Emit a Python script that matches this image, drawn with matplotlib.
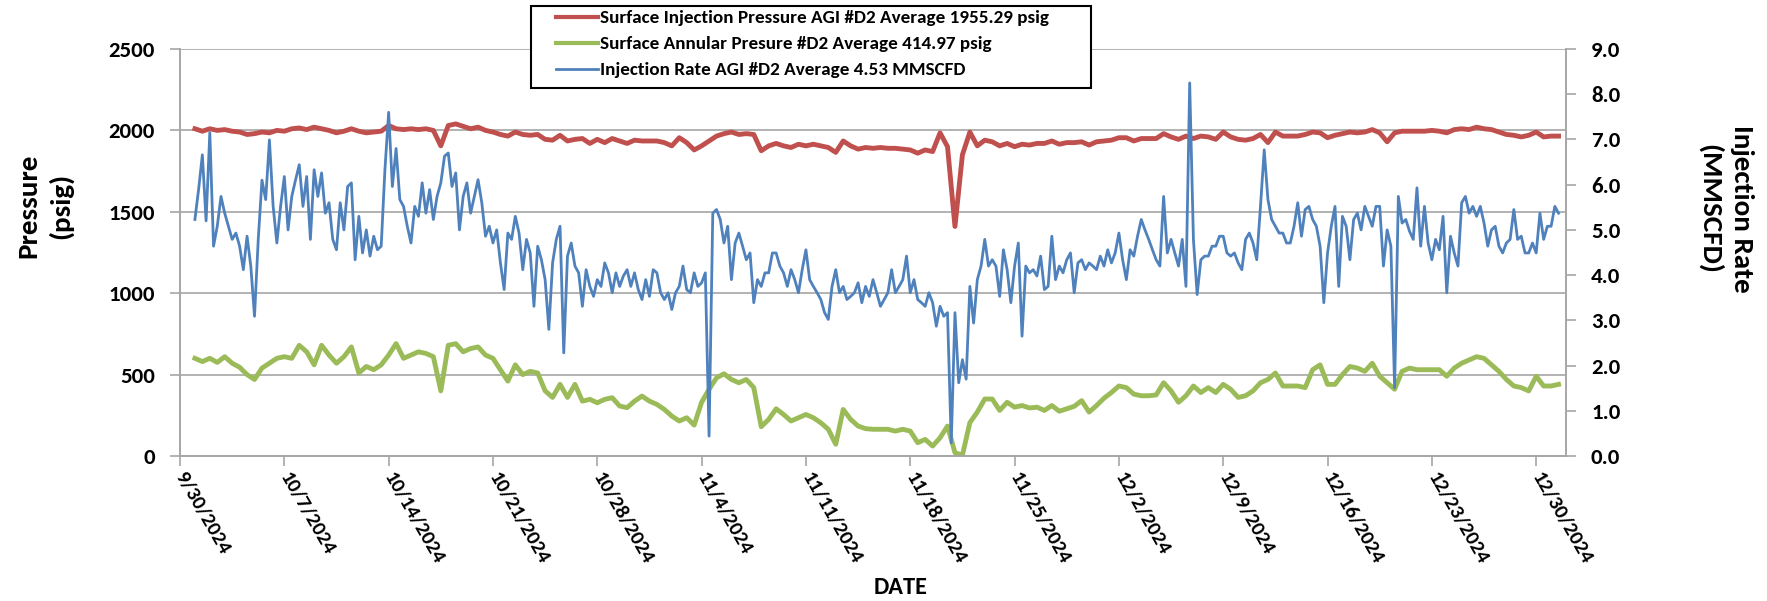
import matplotlib
matplotlib.use('Agg')
import matplotlib.pyplot as plt
import pandas as pd
from matplotlib.patches import Rectangle
from matplotlib.lines import Line2D

# ---------------- data ----------------
start_date = '2024-10-01 00:00'

# Surface Injection Pressure (psig), 12-hour samples
red = [2010, 1995, 2010, 2000, 2005, 1995, 1990, 1975, 1980, 1990, 1985, 2000, 1995, 2010, 2015, 2005,
       2020, 2010, 2000, 1985, 1995, 2010, 1995, 1985, 1990,
       1995, 2030, 2010, 2005, 2010, 2005, 2010, 2000, 1905, 2030, 2040, 2025, 2010, 2020, 2000, 1990,
       1975, 1965, 1990, 1975, 1970, 1975, 1945, 1940, 1970, 1935,
       1945, 1950, 1920, 1945, 1925, 1950, 1935, 1920, 1940, 1935, 1935, 1935, 1925, 1905, 1955, 1925,
       1880, 1905, 1935, 1965, 1980, 1990, 1975, 1980, 1975, 1875, 1905,
       1920, 1905, 1895, 1915, 1905, 1915, 1905, 1895, 1865, 1935, 1905, 1885, 1895, 1890, 1895, 1890,
       1890, 1885, 1880, 1860, 1880, 1870, 1985, 1900, 1410, 1850, 1990,
       1905, 1940, 1930, 1905, 1920, 1900, 1915, 1910, 1920, 1920, 1935, 1915, 1925, 1925, 1930, 1910,
       1930, 1935, 1940, 1955, 1955, 1935, 1950, 1950, 1950, 1980,
       1960, 1945, 1965, 1950, 1965, 1960, 1945, 1990, 1960, 1945, 1940, 1950, 1975, 1925, 1990, 1965,
       1965, 1965, 1975, 1990, 1985, 1955, 1970, 1980, 1990, 1985, 1990,
       2005, 1985, 1930, 1985, 1995, 1995, 1995, 1995, 2000, 1995, 1985, 2005, 2010, 2005, 2020, 2010,
       2005, 1990, 1975, 1970, 1960, 1970, 1990, 1960, 1965, 1965]

# Surface Annular Pressure (psig), 12-hour samples
green = [600, 580, 600, 575, 610, 570, 545, 500, 470, 540, 570, 600, 610, 600, 680, 640, 560, 680, 620,
         570, 610, 670, 510, 550, 530,
         560, 620, 690, 600, 620, 640, 630, 610, 400, 680, 690, 640, 660, 670, 620, 600, 530, 460, 560,
         500, 520, 510, 400, 360, 440, 360,
         440, 337, 348, 327, 348, 358, 307, 297, 337, 368, 337, 317, 286, 245, 215, 235, 190, 330, 410,
         480, 505, 470, 450, 470, 420, 180, 225,
         290, 255, 215, 235, 255, 235, 204, 164, 72, 286, 225, 184, 168, 164, 164, 164, 153, 164, 153,
         82, 102, 61, 112, 184, 20, 5, 205,
         270, 350, 350, 280, 330, 300, 310, 295, 300, 280, 310, 275, 290, 305, 340, 270, 310, 355, 390,
         430, 420, 380, 370, 370, 375, 450,
         400, 330, 370, 430, 390, 420, 390, 440, 410, 360, 370, 400, 450, 470, 510, 430, 430, 430, 420,
         530, 560, 440, 440, 500, 550, 540, 520,
         570, 490, 450, 410, 520, 540, 530, 530, 530, 530, 490, 540, 570, 590, 610, 600, 560, 520, 470,
         430, 420, 400, 490, 430, 430, 440]

# Injection Rate (MMSCFD), 6-hour samples
blue = [5.23, 5.9, 6.66, 5.2, 7.15, 4.64, 5.08, 5.74, 5.37, 5.08, 4.79, 4.93,
        4.64, 4.12, 4.86, 4.2, 3.09, 4.79, 6.1, 5.67, 6.99, 5.52, 4.71, 5.52,
        6.18, 5.0, 5.74, 6.1, 6.44, 5.52, 6.18, 4.79, 6.33, 5.74, 6.26, 5.37,
        5.6, 4.79, 4.56, 5.6, 5.0, 5.96, 6.04, 4.34, 5.3, 4.49, 5.0, 4.42,
        4.86, 4.56, 4.64, 6.33, 7.6, 5.96, 6.8, 5.67, 5.52, 5.08, 4.71, 5.52,
        5.3, 6.04, 5.37, 5.89, 5.23, 5.74, 6.04, 6.63, 6.7, 5.96, 6.26, 5.0,
        5.74, 6.04, 5.37, 5.74, 6.11, 5.6, 4.86, 5.08, 4.71, 5.0, 4.27, 3.68,
        4.93, 4.79, 5.3, 4.93, 4.12, 4.79, 4.49, 3.31, 4.64, 4.34, 3.9, 2.8,
        4.27, 4.79, 5.08, 2.28, 4.42, 4.71, 4.2, 4.05, 3.31, 4.12, 3.75, 3.53,
        3.9, 3.75, 4.27, 4.05, 3.61, 4.05, 3.75, 3.98, 4.12, 3.75, 4.05, 3.68,
        3.46, 3.9, 3.53, 4.12, 4.05, 3.61, 3.46, 3.61, 3.24, 3.61, 3.75, 4.2,
        3.68, 3.61, 4.05, 3.75, 3.83, 4.05, 0.44, 5.37, 5.45, 5.23, 4.71, 5.08,
        3.9, 4.71, 4.93, 4.64, 4.34, 4.49, 3.39, 3.9, 3.75, 4.05, 4.05, 4.49,
        4.49, 4.2, 4.05, 3.75, 4.12, 3.9, 3.61, 4.12, 4.56, 3.9, 3.75, 3.61,
        3.46, 3.17, 3.02, 3.75, 4.12, 3.61, 3.75, 3.46, 3.53, 3.61, 3.83, 3.39,
        3.75, 3.53, 3.9, 3.61, 3.31, 3.46, 3.61, 4.12, 3.61, 3.75, 3.9, 4.42,
        3.61, 3.9, 3.46, 3.39, 3.31, 3.61, 3.39, 2.87, 3.31, 3.09, 3.17, 0.29,
        3.17, 1.62, 2.13, 1.7, 3.75, 2.94, 3.9, 4.2, 4.79, 4.2, 4.34, 4.2,
        3.53, 4.56, 4.12, 3.39, 4.2, 4.71, 2.65, 4.2, 4.05, 4.12, 3.98, 4.42,
        3.68, 3.75, 4.86, 3.9, 4.2, 4.05, 4.34, 4.49, 3.61, 4.27, 4.34, 4.12,
        4.27, 4.2, 4.12, 4.42, 4.2, 4.56, 4.27, 4.49, 4.93, 4.34, 3.9, 4.56,
        4.42, 4.86, 5.23, 5.0, 4.79, 4.56, 4.34, 4.2, 5.74, 4.49, 4.79, 4.49,
        4.2, 4.79, 3.75, 8.25, 4.79, 3.57, 4.34, 4.42, 4.42, 4.64, 4.64, 4.86,
        4.86, 4.49, 4.42, 4.49, 4.27, 4.12, 4.79, 4.93, 4.71, 4.34, 5.52, 6.77,
        5.67, 5.23, 5.08, 4.93, 4.93, 4.71, 4.71, 5.08, 5.6, 4.86, 5.45, 5.52,
        5.23, 5.08, 4.64, 3.39, 4.49, 5.08, 5.52, 3.75, 5.3, 5.08, 4.34, 5.23,
        5.37, 5.0, 5.52, 5.3, 5.08, 5.52, 5.52, 4.2, 5.0, 4.64, 1.51, 5.74,
        5.15, 5.23, 4.97, 4.79, 5.93, 4.64, 5.52, 4.71, 4.34, 4.79, 4.56, 5.3,
        3.61, 4.86, 4.49, 4.2, 5.6, 5.74, 5.37, 5.52, 5.3, 5.52, 5.15, 4.64,
        5.0, 5.08, 4.64, 4.49, 4.71, 4.79, 5.45, 4.79, 4.86, 4.49, 4.49, 4.71,
        4.49, 5.37, 4.79, 5.08, 5.08, 5.52, 5.37]

tick_dates = ['2024-09-30', '2024-10-07', '2024-10-14', '2024-10-21', '2024-10-28', '2024-11-04',
              '2024-11-11', '2024-11-18', '2024-11-25', '2024-12-02', '2024-12-09', '2024-12-16',
              '2024-12-23', '2024-12-30']
tick_labels = ['9/30/2024', '10/7/2024', '10/14/2024', '10/21/2024', '10/28/2024', '11/4/2024',
               '11/11/2024', '11/18/2024', '11/25/2024', '12/2/2024', '12/9/2024', '12/16/2024',
               '12/23/2024', '12/30/2024']
labels = ['Surface Injection Pressure AGI #D2 Average 1955.29 psig',
          'Surface Annular Presure #D2 Average 414.97 psig',
          'Injection Rate AGI #D2 Average 4.53 MMSCFD']

RED, GREEN, BLUE = '#C0504D', '#9BBB59', '#4F81BD'
GRID = '#A6A6A6'

plt.rcParams['font.family'] = ['Carlito', 'Noto Sans', 'DejaVu Sans']
plt.rcParams['font.weight'] = 'bold'

W, H = 1767, 601
fig = plt.figure(figsize=(W / 100, H / 100), dpi=100)
ax = fig.add_axes([180 / W, 1 - 456 / H, (1566 - 180) / W, (456 - 49) / H])
ax2 = ax.twinx()

t_half = pd.date_range(start_date, periods=len(red), freq='12h')
t_quarter = pd.date_range(start_date, periods=len(blue), freq='6h')
ax.plot(t_half, red, color=RED, lw=3.5, solid_joinstyle='round')
ax.plot(t_half, green, color=GREEN, lw=3.5, solid_joinstyle='round')
ax2.plot(t_quarter, blue, color=BLUE, lw=2.0, solid_joinstyle='round')

ax.set_xlim(pd.Timestamp('2024-09-30'), pd.Timestamp('2025-01-01'))
ax.set_ylim(0, 2500)
ax2.set_ylim(0, 9)
ax.set_yticks(range(0, 2501, 500))
ax2.set_yticks([i for i in range(10)])
ax2.set_yticklabels([f'{i:.1f}' for i in range(10)])
ax.set_xticks(pd.to_datetime(tick_dates))
ax.set_xticklabels(tick_labels, rotation=-60, ha='left', va='center', rotation_mode='anchor')

ax.grid(axis='y', color=GRID, lw=1.2)
ax.set_axisbelow(True)
for a in (ax, ax2):
    for s in a.spines.values():
        s.set_color(GRID)
        s.set_linewidth(1.2)
    a.spines['top'].set_visible(False)

ax.tick_params(axis='y', direction='out', length=7, width=1.2, color=GRID, pad=11, labelsize=16.5)
ax2.tick_params(axis='y', direction='out', length=7, width=1.2, color=GRID, pad=11, labelsize=16.5)
ax.tick_params(axis='x', direction='out', length=7, width=1.2, color=GRID, pad=6, labelsize=15)
for lab in ax.get_xticklabels() + ax.get_yticklabels() + ax2.get_yticklabels():
    lab.set_fontweight('bold')

fig.text(44.5 / W, 1 - 206 / H, 'Pressure\n(psig)', rotation=90, ha='center', va='center',
         fontsize=21, fontweight='bold', linespacing=1.35)
fig.text(1726 / W, 1 - 209 / H, 'Injection Rate\n(MMSCFD)', rotation=-90, ha='center', va='center',
         fontsize=21, fontweight='bold', linespacing=1.35)
fig.text(901 / W, 1 - 588 / H, 'DATE', ha='center', va='center', fontsize=17.5, fontweight='bold')

# legend box
fig.patches.append(Rectangle((531 / W, 1 - 88 / H), (1091 - 531) / W, (88 - 6) / H,
                             transform=fig.transFigure, facecolor='white', edgecolor='black',
                             lw=1.5, zorder=5))
handles = [Line2D([], [], color=RED, lw=3), Line2D([], [], color=GREEN, lw=3),
           Line2D([], [], color=BLUE, lw=2)]
leg = fig.legend(handles, labels, loc='upper left', bbox_to_anchor=(553 / W, 1 - 7 / H),
                 frameon=False, handlelength=2.2, handletextpad=0.1,
                 labelspacing=0.5, borderaxespad=0, borderpad=0.15,
                 prop={'weight': 'bold', 'size': 13.8})
leg.set_zorder(6)

fig.savefig('out.png', dpi=100)
